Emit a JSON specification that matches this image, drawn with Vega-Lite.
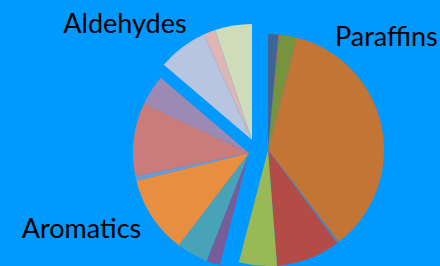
{
  "$schema": "https://vega.github.io/schema/vega-lite/v6.json",
  "width": 440,
  "height": 266,
  "autosize": {"type": "fit", "contains": "padding"},
  "padding": 0,
  "background": "#0099FF",
  "config": {"view": {"stroke": null}},
  "data": {
    "values": [
      {"group": "Paraffins", "item": "P1", "value": 1.4, "label": null},
      {"group": "Paraffins", "item": "P2", "value": 0.15, "label": null},
      {"group": "Paraffins", "item": "P3", "value": 2.4, "label": null},
      {"group": "Paraffins", "item": "P4", "value": 35.6, "label": "Paraffins"},
      {"group": "Paraffins", "item": "P5", "value": 0.3, "label": null},
      {"group": "Paraffins", "item": "P6", "value": 8.9, "label": null},
      {"group": "Paraffins", "item": "P7", "value": 5.3, "label": null},
      {"group": "Aromatics", "item": "A1", "value": 1.9, "label": null},
      {"group": "Aromatics", "item": "A2", "value": 4.4, "label": null},
      {"group": "Aromatics", "item": "A3", "value": 10.8, "label": "Aromatics"},
      {"group": "Aromatics", "item": "A4", "value": 0.6, "label": null},
      {"group": "Aromatics", "item": "A5", "value": 10.3, "label": null},
      {"group": "Aromatics", "item": "A6", "value": 4.2, "label": null},
      {"group": "Aldehydes", "item": "D1", "value": 6.9, "label": "Aldehydes"},
      {"group": "Aldehydes", "item": "D2", "value": 1.7, "label": null},
      {"group": "Aldehydes", "item": "D3", "value": 5.15, "label": null}
    ]
  },
  "transform": [{"stack": "value", "groupby": [], "as": ["t0", "t1"]}],
  "layer": [
    {
      "transform": [{"filter": "datum.group == 'Paraffins'"}],
      "mark": {"type": "arc", "radius": 116, "xOffset": 48, "yOffset": 17},
      "encoding": {
        "theta": {"field": "t0", "type": "quantitative", "stack": null, "scale": {"domain": [0, 100]}},
        "theta2": {"field": "t1"},
        "color": {"field": "item", "type": "nominal", "legend": null, "scale": {
          "domain": ["P1","P2","P3","P4","P5","P6","P7","A1","A2","A3","A4","A5","A6","D1","D2","D3"],
          "range": ["#3F6496","#C0504D","#77943D","#C37535","#4F81BD","#B34B47","#98B955","#775C99","#48A2B8","#E88E40","#6E9BD6","#C97C7A","#9C8AB5","#B8C5E0","#E0B5B6","#CFDCB9"]}}
      }
    },
    {
      "transform": [{"filter": "datum.group == 'Aromatics'"}],
      "mark": {"type": "arc", "radius": 116, "xOffset": 29, "yOffset": 20},
      "encoding": {
        "theta": {"field": "t0", "type": "quantitative", "stack": null, "scale": {"domain": [0, 100]}},
        "theta2": {"field": "t1"},
        "color": {"field": "item", "type": "nominal", "legend": null}
      }
    },
    {
      "transform": [{"filter": "datum.group == 'Aldehydes'"}],
      "mark": {"type": "arc", "radius": 116, "xOffset": 32, "yOffset": 7},
      "encoding": {
        "theta": {"field": "t0", "type": "quantitative", "stack": null, "scale": {"domain": [0, 100]}},
        "theta2": {"field": "t1"},
        "color": {"field": "item", "type": "nominal", "legend": null}
      }
    },
    {
      "transform": [{"filter": "datum.label == 'Aldehydes'"}],
      "mark": {"type": "text", "radius": 167, "xOffset": 32, "yOffset": 7, "dy": 1, "font": "Lato", "fontSize": 27, "color": "#000000", "align": "center", "baseline": "alphabetic"},
      "encoding": {
        "theta": {"field": "t0", "type": "quantitative", "stack": null, "scale": {"domain": [0, 100]}},
        "text": {"field": "label"}
      }
    },
    {
      "transform": [{"filter": "datum.label == 'Paraffins'"}],
      "mark": {"type": "text", "radius": 110, "xOffset": 48, "yOffset": 17, "dx": 40, "dy": 3, "font": "Lato", "fontSize": 27, "color": "#000000", "align": "left", "baseline": "alphabetic"},
      "encoding": {
        "theta": {"field": "t0", "type": "quantitative", "stack": null, "scale": {"domain": [0, 100]}},
        "text": {"field": "label"}
      }
    },
    {
      "transform": [{"filter": "datum.label == 'Aromatics'"}],
      "mark": {"type": "text", "radius": 107, "xOffset": 29, "yOffset": 20, "dx": -43, "font": "Lato", "fontSize": 27, "color": "#000000", "align": "right", "baseline": "alphabetic"},
      "encoding": {
        "theta": {"field": "t0", "type": "quantitative", "stack": null, "scale": {"domain": [0, 100]}},
        "text": {"field": "label"}
      }
    }
  ]
}
